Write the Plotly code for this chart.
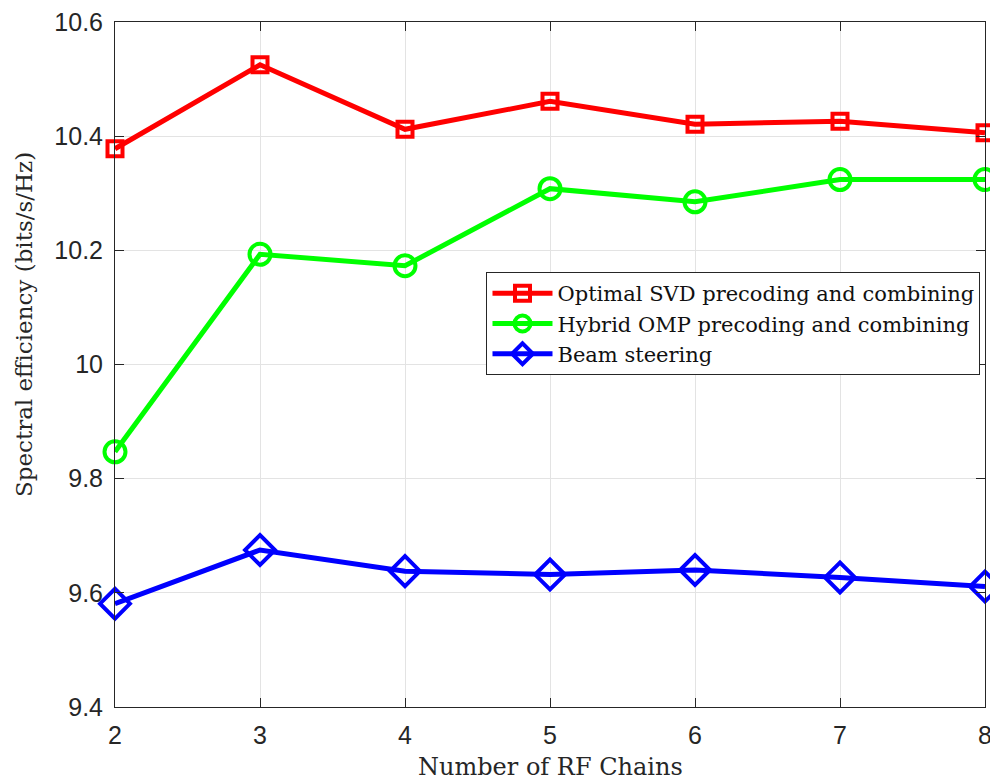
import plotly.graph_objects as go

# Number of RF chains
rf_chains = [2, 3, 4, 5, 6, 7, 8]

# Spectral efficiency (bits/s/Hz) per scheme
svd_optimal = [10.378, 10.525, 10.412, 10.461, 10.421, 10.426, 10.406]
omp_hybrid = [9.847, 10.193, 10.173, 10.308, 10.285, 10.324, 10.324]
beam_steering = [9.581, 9.675, 9.638, 9.632, 9.640, 9.627, 9.611]

series_names = [
    "Optimal SVD precoding and combining",
    "Hybrid OMP precoding and combining",
    "Beam steering",
]

y_ticks = [9.4, 9.6, 9.8, 10.0, 10.2, 10.4, 10.6]
y_tick_text = ["9.4", "9.6", "9.8", "10", "10.2", "10.4", "10.6"]

axis_color = "#262626"
grid_color = "#e3e3e3"
serif = "DejaVu Serif, Liberation Serif, serif"
sans = "Liberation Sans, Arial, sans-serif"

fig = go.Figure()

styles = [
    (svd_optimal, "#ff0000", "square-open", 15),
    (omp_hybrid, "#00ff00", "circle-open", 21),
    (beam_steering, "#0000ff", "diamond-open", 23),
]

for (vals, color, symbol, size), name in zip(styles, series_names):
    fig.add_trace(go.Scatter(
        x=rf_chains, y=vals, name=name,
        mode="lines+markers",
        line=dict(color=color, width=5),
        marker=dict(symbol=symbol, size=size, color=color,
                    line=dict(color=color, width=4)),
        cliponaxis=False,
    ))

fig.update_layout(
    width=990, height=783,
    margin=dict(l=115, r=5, t=22, b=76),
    paper_bgcolor="white",
    plot_bgcolor="white",
    showlegend=True,
    legend=dict(
        x=0.427, y=0.635, xanchor="left", yanchor="top",
        bgcolor="white", bordercolor=axis_color, borderwidth=1,
        font=dict(family=serif, size=21, color="#111111"),
        tracegroupgap=0, itemwidth=60,
    ),
    annotations=[
        dict(text="Spectral efficiency (bits/s/Hz)", textangle=-90,
             xref="paper", yref="paper", x=-0.1046, y=0.559,
             xanchor="center", yanchor="middle", showarrow=False,
             font=dict(family=serif, size=23, color=axis_color)),
        dict(text="Number of RF Chains",
             xref="paper", yref="paper", x=0.5, y=-0.088,
             xanchor="center", yanchor="middle", showarrow=False,
             font=dict(family=serif, size=24, color=axis_color)),
    ],
)

fig.update_xaxes(
    range=[2, 8], tickvals=rf_chains, automargin=False,
    showgrid=True, gridcolor=grid_color, gridwidth=1,
    showline=True, linecolor=axis_color, linewidth=1, mirror="ticks",
    ticks="inside", ticklen=9, tickcolor=axis_color,
    tickfont=dict(family=sans, size=25, color=axis_color),
    ticklabeloverflow="allow", ticklabelstandoff=6,
    zeroline=False,
)
fig.update_yaxes(
    range=[9.4, 10.6], tickvals=y_ticks, ticktext=y_tick_text,
    automargin=False,
    showgrid=True, gridcolor=grid_color, gridwidth=1,
    showline=True, linecolor=axis_color, linewidth=1, mirror="ticks",
    ticks="inside", ticklen=9, tickcolor=axis_color,
    tickfont=dict(family=sans, size=25, color=axis_color),
    ticklabelstandoff=6,
    zeroline=False,
)

fig.write_html("out.html")
